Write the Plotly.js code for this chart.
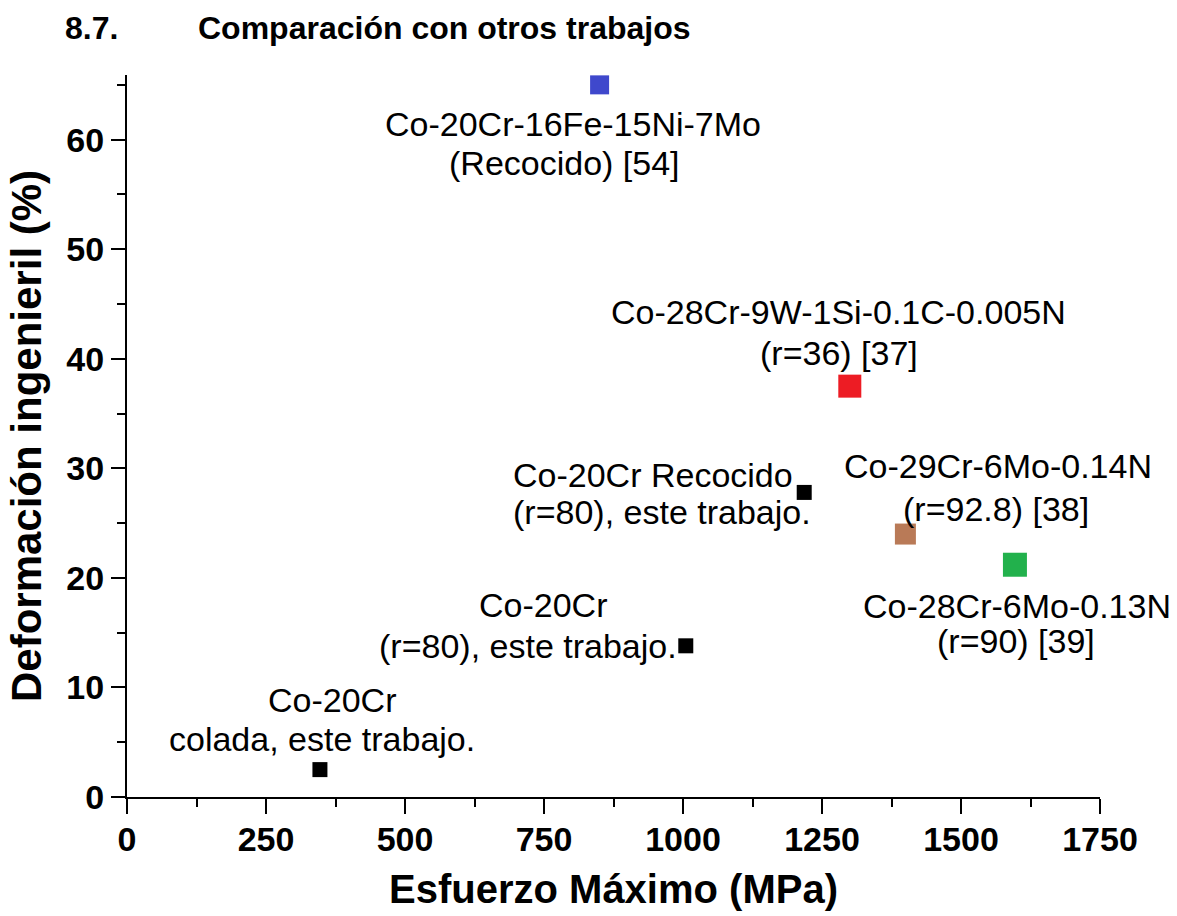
<!DOCTYPE html>
<html>
<head>
<meta charset="utf-8">
<script src="https://cdn.plot.ly/plotly-3.0.1.min.js"></script>
<style>html,body{margin:0;padding:0;background:#fff;}#chart{width:1177px;height:916px;}</style>
</head>
<body>
<div id="chart"></div>
<script>
// Data
const materials = [
  "Co-20Cr-16Fe-15Ni-7Mo (Recocido) [54]",
  "Co-28Cr-9W-1Si-0.1C-0.005N (r=36) [37]",
  "Co-20Cr Recocido (r=80), este trabajo.",
  "Co-29Cr-6Mo-0.14N (r=92.8) [38]",
  "Co-28Cr-6Mo-0.13N (r=90) [39]",
  "Co-20Cr (r=80), este trabajo.",
  "Co-20Cr colada, este trabajo."
];
const esfuerzoMaximo = [850, 1300, 1218, 1400, 1597, 1005, 347];
const deformacion = [65.0, 37.5, 27.8, 24.0, 21.2, 13.8, 2.5];
const labelLines = [
  ["Co-20Cr-16Fe-15Ni-7Mo", "(Recocido) [54]"],
  ["Co-28Cr-9W-1Si-0.1C-0.005N", "(r=36) [37]"],
  ["Co-20Cr Recocido", "(r=80), este trabajo."],
  ["Co-29Cr-6Mo-0.14N", "(r=92.8) [38]"],
  ["Co-28Cr-6Mo-0.13N", "(r=90) [39]"],
  ["Co-20Cr", "(r=80), este trabajo."],
  ["Co-20Cr", "colada, este trabajo."]
];
const xTickVals = [0, 250, 500, 750, 1000, 1250, 1500, 1750];
const yTickVals = [0, 10, 20, 30, 40, 50, 60];

// Styles (not data)
const markerColors = ["#3f48cc", "#ed1c24", "#000000", "#b97a57", "#22b14c", "#000000", "#000000"];
const markerSizes = [19, 23, 15, 21, 24, 15, 15];
// label placement: [xshift, yshift(down +), xanchor] per line
const labelPlacement = [
  [[-27, 39, "center"], [-35, 78, "center"]],
  [[-11, -74, "center"], [-11, -33, "center"]],
  [[-293, -17, "left"], [-293, 20, "left"]],
  [[93, -68, "center"], [91, -25, "center"]],
  [[2, 41, "center"], [1, 76, "center"]],
  [[-143, -41, "center"], [-158, 0, "center"]],
  [[12, -70, "center"], [2, -31, "center"]]
];

const FONT = "Liberation Sans, Arial, sans-serif";

const trace = {
  type: "scatter",
  mode: "markers",
  x: esfuerzoMaximo,
  y: deformacion,
  text: materials,
  hoverinfo: "text+x+y",
  marker: {symbol: "square", size: markerSizes, color: markerColors, opacity: 1, line: {width: 0}},
  showlegend: false,
  cliponaxis: false
};

const annotations = [];
labelLines.forEach((lines, i) => {
  lines.forEach((t, j) => {
    const p = labelPlacement[i][j];
    annotations.push({
      x: esfuerzoMaximo[i], y: deformacion[i], xref: "x", yref: "y",
      text: t, showarrow: false,
      xanchor: p[2], yanchor: "middle",
      xshift: p[0], yshift: -p[1],
      font: {family: FONT, size: 34, color: "#000"}
    });
  });
});
// Section heading
annotations.push({
  xref: "paper", yref: "paper", x: (63 - 127) / 973, y: (797 - 28) / 722,
  xanchor: "left", yanchor: "middle", showarrow: false,
  text: "8.7.", font: {family: FONT, size: 32, color: "#000", weight: "bold"}
});
annotations.push({
  xref: "paper", yref: "paper", x: (196 - 127) / 973, y: (797 - 28) / 722,
  xanchor: "left", yanchor: "middle", showarrow: false,
  text: "Comparación con otros trabajos", font: {family: FONT, size: 32, color: "#000", weight: "bold"}
});

const layout = {
  width: 1177, height: 916,
  margin: {l: 127, r: 77, t: 75, b: 119, pad: 0},
  paper_bgcolor: "#fff", plot_bgcolor: "#fff",
  font: {family: FONT, color: "#000"},
  xaxis: {
    range: [0, 1750], tickvals: xTickVals, ticktext: xTickVals.map(String),
    ticks: "outside", ticklen: 15, tickwidth: 2, tickcolor: "#000",
    ticklabelstandoff: -4,
    showline: true, linewidth: 2, linecolor: "#000",
    showgrid: false, zeroline: false,
    tickfont: {family: FONT, size: 34, color: "#000", weight: "bold"},
    minor: {dtick: 125, tick0: 0, ticks: "outside", ticklen: 8, tickwidth: 2, tickcolor: "#000", showgrid: false},
    title: {text: "Esfuerzo Máximo (MPa)", font: {family: FONT, size: 40, color: "#000", weight: "bold"}, standoff: 18}
  },
  yaxis: {
    range: [0, 65.9], tickvals: yTickVals, ticktext: yTickVals.map(String),
    ticks: "outside", ticklen: 14, tickwidth: 2, tickcolor: "#000",
    showline: true, linewidth: 2, linecolor: "#000",
    showgrid: false, zeroline: false,
    tickfont: {family: FONT, size: 34, color: "#000", weight: "bold"},
    minor: {dtick: 5, tick0: 0, ticks: "outside", ticklen: 8, tickwidth: 2, tickcolor: "#000", showgrid: false},
    title: {text: "Deformación ingenieril (%)", font: {family: FONT, size: 42, color: "#000", weight: "bold"}, standoff: 12}
  },
  annotations: annotations
};

Plotly.newPlot("chart", [trace], layout, {displayModeBar: false, staticPlot: true});
</script>
</body>
</html>
